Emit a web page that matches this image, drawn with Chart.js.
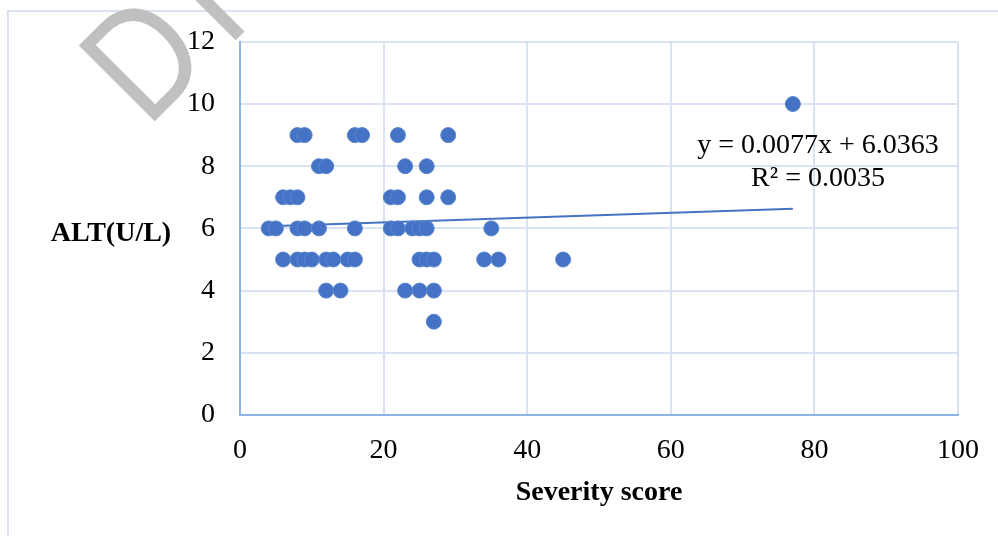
<!DOCTYPE html>
<html>
<head>
<meta charset="utf-8">
<title>ALT vs Severity score</title>
<script src="https://cdn.jsdelivr.net/npm/chart.js@4.4.1/dist/chart.umd.min.js"></script>
<style>
    html, body { margin: 0; padding: 0; background: #ffffff; }
    #wrap { width: 998px; height: 536px; }
</style>
</head>
<body>
<div id="wrap"><canvas id="altChart" width="998" height="536"></canvas></div>
<script>
// severity score (x) and ALT (y), one pair per patient
const severityScore = [
    8, 9, 16, 17, 22, 29,
    11, 12, 23, 26,
    6, 7, 8, 21, 22, 26, 29,
    4, 5, 8, 9, 11, 16, 21, 22, 24, 25, 26, 35,
    6, 8, 9, 10, 12, 13, 15, 16, 25, 26, 27, 34, 36, 45,
    12, 14, 23, 25, 27,
    27,
    77
];
const altValues = [
    9, 9, 9, 9, 9, 9,
    8, 8, 8, 8,
    7, 7, 7, 7, 7, 7, 7,
    6, 6, 6, 6, 6, 6, 6, 6, 6, 6, 6, 6,
    5, 5, 5, 5, 5, 5, 5, 5, 5, 5, 5, 5, 5, 5,
    4, 4, 4, 4, 4,
    3,
    10
];

// linear trendline as printed on the chart
const trendSlope = 0.0077;
const trendIntercept = 6.0363;
const trendLabels = ['y = 0.0077x + 6.0363', 'R\u00B2 = 0.0035'];

const xTicks = [0, 20, 40, 60, 80, 100];
const yTicks = [0, 2, 4, 6, 8, 10, 12];

const serif = '"Liberation Serif", "Times New Roman", serif';
const gridBlue = '#D9E3F4';
const axisBlue = '#8DB3E2';
const markerBlue = '#4472C4';

const points = severityScore.map((x, i) => ({ x: x, y: altValues[i] }));
const xMin = Math.min(...severityScore);
const xMax = Math.max(...severityScore);
const trendPoints = [
    { x: xMin, y: trendSlope * xMin + trendIntercept },
    { x: xMax, y: trendSlope * xMax + trendIntercept }
];

// frame, watermark, horizontal y title and the trendline equation
const decorations = {
    id: 'decorations',
    beforeDraw(chart) {
        const ctx = chart.ctx;
        ctx.save();
        ctx.strokeStyle = gridBlue;
        ctx.lineWidth = 2;
        ctx.beginPath();
        ctx.moveTo(998, 11);
        ctx.lineTo(8, 11);
        ctx.lineTo(8, 536);
        ctx.stroke();

        ctx.translate(147, 129);
        ctx.rotate(-Math.PI / 4);
        ctx.scale(0.85, 1);
        ctx.fillStyle = '#C0C0C0';
        ctx.font = '156px "Liberation Sans", Arial, sans-serif';
        ctx.letterSpacing = '22px';
        ctx.textBaseline = 'alphabetic';
        ctx.fillText('DRAFT', 0, 0);
        ctx.restore();
    },
    afterDraw(chart) {
        const ctx = chart.ctx;
        ctx.save();
        ctx.fillStyle = '#000000';
        ctx.textAlign = 'center';
        ctx.textBaseline = 'middle';
        ctx.font = 'bold 28px ' + serif;
        ctx.fillText('ALT(U/L)', 111, 234);
        ctx.font = '28px ' + serif;
        ctx.fillText(trendLabels[0], 818, 146);
        ctx.fillText(trendLabels[1], 818, 179);
        ctx.restore();
    }
};

const chart = new Chart(document.getElementById('altChart').getContext('2d'), {
    type: 'scatter',
    data: {
        datasets: [
            {
                label: 'ALT(U/L)',
                data: points,
                backgroundColor: markerBlue,
                borderColor: '#5B86CF',
                borderWidth: 1,
                pointRadius: 7.5,
                order: 0
            },
            {
                type: 'line',
                label: 'Linear trend',
                data: trendPoints,
                borderColor: markerBlue,
                borderWidth: 2,
                pointRadius: 0,
                fill: false,
                order: 1
            }
        ]
    },
    options: {
        responsive: false,
        animation: false,
        layout: { padding: { top: 41, right: 40, left: 0, bottom: 0 } },
        plugins: {
            legend: { display: false },
            tooltip: { enabled: false }
        },
        scales: {
            x: {
                type: 'linear',
                min: 0,
                max: 100,
                afterFit: s => { s.height = 121; },
                afterBuildTicks: s => { s.ticks = xTicks.map(v => ({ value: v })); },
                ticks: { color: '#000', font: { family: serif, size: 28 }, padding: 19 },
                grid: { color: gridBlue, lineWidth: 2, drawTicks: false },
                border: { color: axisBlue, width: 2 },
                title: {
                    display: true,
                    text: 'Severity score',
                    color: '#000',
                    font: { family: serif, size: 28, weight: 'bold' },
                    padding: { top: 0, bottom: 26 }
                }
            },
            y: {
                min: 0,
                max: 12,
                afterFit: s => { s.width = 240; },
                afterBuildTicks: s => { s.ticks = yTicks.map(v => ({ value: v })); },
                ticks: { color: '#000', font: { family: serif, size: 28 }, padding: 25 },
                grid: { color: gridBlue, lineWidth: 2, drawTicks: false },
                border: { color: axisBlue, width: 2 }
            }
        }
    },
    plugins: [decorations]
});
</script>
</body>
</html>
